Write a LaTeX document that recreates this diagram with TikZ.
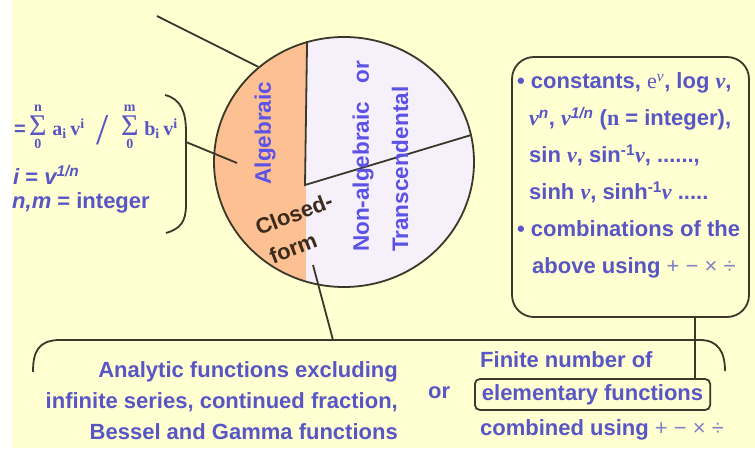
\documentclass[tikz,border=0pt]{standalone}
\usepackage{amsmath}
\usepackage{fontspec}
\setmainfont{Liberation Sans}
\newfontfamily\tms{Liberation Serif}
\usetikzlibrary{shapes.geometric}
\definecolor{bg}{RGB}{255,255,210}
\definecolor{tblue}{RGB}{88,86,196}
\definecolor{cblue}{RGB}{92,82,230}
\definecolor{orng}{RGB}{252,192,146}
\definecolor{lav}{RGB}{245,240,250}
\definecolor{linec}{RGB}{58,56,40}
\definecolor{opc}{RGB}{128,128,196}
\definecolor{cfc}{RGB}{60,42,26}
\newcommand\sv[1]{\text{\tms\bfseries #1}}
\newcommand\bigsig{\mathop{\text{\fontsize{30}{30}\selectfont\tms\mdseries Σ}}\limits}
\newcommand\vv{{\tms\itshape v}}
\newcommand\opsy{{\mdseries\color{opc}+ − × ÷}}
\tikzset{
  ln/.style={draw=linec, line width=1.8pt},
  btxt/.style={text=tblue, font=\fontsize{22}{31}\selectfont\bfseries, inner sep=0pt},
  rtxt/.style={text=tblue, font=\fontsize{22}{37}\selectfont\bfseries, inner sep=0pt},
  ctxt/.style={text=cblue, font=\fontsize{22.5}{27}\selectfont\bfseries, inner sep=0pt},
  cftxt/.style={text=cfc, font=\fontsize{22}{27}\selectfont\bfseries, inner sep=0pt, rotate=21},
}
\begin{document}
\begin{tikzpicture}[x=1pt,y=-1pt]
\useasboundingbox (0,0) rectangle (755,449);
\fill[white] (0,0) rectangle (755,449);
\fill[bg] (12,0) rectangle (755,448);

% circle fill
\begin{scope}
\clip (344,162) ellipse [x radius=130, y radius=125];
\fill[lav] (200,20) rectangle (480,300);
\fill[orng] (200,20) rectangle (306,300);
\end{scope}
\node[ellipse, ln, minimum width=260pt, minimum height=250pt, inner sep=0pt] (circ) at (344,162) {};
\coordinate (mid) at (305,185);
\draw[ln] (circ.107) -- (mid) -- (circ.12);

\node[ctxt, rotate=90] (alg) at (265,133) {Algebraic};
\node[ctxt, rotate=90, anchor=west] (nonalg) at (363,252) {Non-algebraic\ \ \ or};
\node[ctxt, rotate=90, anchor=west] (trans) at (400,252) {Transcendental};
\node[cftxt] (closed) at (294,214) {Closed-};
\node[cftxt] (form) at (293,248) {form};

% connectors to circle
\coordinate (tl) at (157,16);
\draw[ln] (tl) -- (circ.132);
\coordinate (lb) at (186,142);
\coordinate (ai) at (237,163);
\draw[ln] (lb) -- (ai);
\coordinate (cf) at (313,265);
\coordinate (bt) at (333,340);
\draw[ln] (cf) -- (bt);

% left bracket
\draw[ln] (165,95) .. controls (181,99) and (186,112) .. (186,132) -- (186,205) .. controls (186,222) and (180,229) .. (166,233);

% left texts
\node[btxt, anchor=west, font=\fontsize{20}{24}\selectfont\bfseries] (l1) at (14,127) {=\,$\bigsig_{\sv{0}}^{\sv{n}}\mkern2mu\sv{a}_{\sv{i}}\,\sv{v}^{\sv{i}}\mkern10mu\vcenter{\hbox{\fontsize{44}{44}\selectfont\tms\mdseries /}}\mkern8mu\bigsig_{\sv{0}}^{\sv{m}}\mkern2mu\sv{b}_{\sv{i}}\,\sv{v}^{\sv{i}}$};
\node[btxt, anchor=west] (l2) at (13,175) {\itshape i\upshape{} = \itshape v\textsuperscript{1/n}};
\node[btxt, anchor=west] (l3) at (12,203) {\itshape n,m\upshape{} = integer};

% right box
\node[ln, rounded corners=22pt, minimum width=237pt, minimum height=260pt] (rbox) at (630.5,187) {};
\node[rtxt, anchor=west, align=left] (rt) at (517,175.5) {%
• constants, {\tms\mdseries e\textsuperscript{\itshape v}}, log \vv,\\
\hspace*{12pt}\vv\textsuperscript{\itshape n}, \vv\textsuperscript{\itshape 1/n} ({\tms n} = integer),\\
\hspace*{12pt}sin \vv, sin\textsuperscript{-1}\vv, ......,\\
\hspace*{12pt}sinh \vv, sinh\textsuperscript{-1}\vv{} .....\\
• combinations of the\\
\hspace*{15pt}above using \opsy};

% bottom brace
\draw[ln] (33,372) .. controls (33,352) and (38,341) .. (58,340) -- (700,340) .. controls (718,340) and (725,352) .. (725,371);

% bottom texts
\node[btxt, anchor=east, align=right] (an) at (398,401) {Analytic functions excluding\\infinite series, continued fraction,\\Bessel and Gamma functions};
\node[btxt, anchor=west] (or) at (428,393) {or};
\node[btxt, anchor=west] (fin) at (480,360) {Finite number of};
\node[btxt, ln, rounded corners=5pt, anchor=west, inner xsep=7pt, minimum height=31pt] (elem) at (474,394.5) {elementary functions};
\node[btxt, anchor=west] (comb) at (480,430) {combined using \opsy};

\coordinate (vx) at (695,0);
\draw[ln] (rbox.south -| vx) -- (elem.north -| vx);
\end{tikzpicture}
\end{document}
